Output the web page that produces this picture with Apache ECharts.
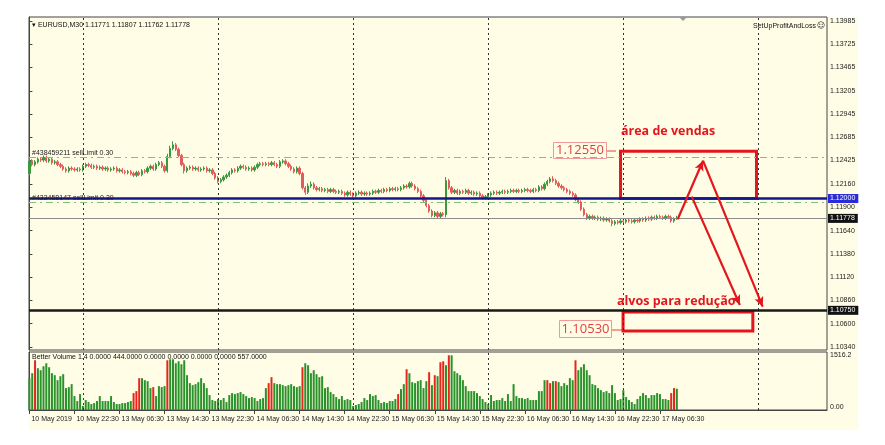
<!DOCTYPE html>
<html><head><meta charset="utf-8">
<script src="https://cdn.jsdelivr.net/npm/echarts@6/dist/echarts.min.js"></script>
<style>html,body{margin:0;padding:0;background:#fff}#c{width:885px;height:445px}</style>
</head><body><div id="c"></div>
<script>
// ---- data ----
const tickIndex = [0,16,32,48,64,80,96,112,128,144,160,176,192,208,224];
const tickLabels = ['10 May 2019','10 May 22:30','13 May 06:30','13 May 14:30','13 May 22:30','14 May 06:30','14 May 14:30','14 May 22:30','15 May 06:30','15 May 14:30','15 May 22:30','16 May 06:30','16 May 14:30','16 May 22:30','17 May 06:30'];
const daySeparators = [19,67,115,163,211,259];
const priceTicks = [1.13985,1.13725,1.13465,1.13205,1.12945,1.12685,1.12425,1.12160,1.11900,1.11640,1.11380,1.11120,1.10860,1.10600,1.10340];

const opens = [
1.1228,1.1242,1.1238,1.1241,1.1244,1.1243,1.1246,1.1242,1.1244,1.1240,
1.1241,1.1238,1.1236,1.1233,1.1231,1.1234,1.1233,1.1232,1.1233,1.1232,
1.1236,1.1238,1.1237,1.1235,1.1236,1.1234,1.1235,1.1233,1.1234,1.1232,
1.1233,1.1234,1.1231,1.1232,1.1230,1.1229,1.1230,1.1228,1.1226,1.1229,
1.1227,1.1231,1.1230,1.1234,1.1236,1.1233,1.1238,1.1240,1.1236,1.1231,
1.1247,1.1256,1.1260,1.1255,1.1248,1.1238,1.1231,1.1234,1.1235,1.1233,
1.1234,1.1232,1.1233,1.1234,1.1231,1.1232,1.1228,1.1223,1.1219,1.1221,
1.1224,1.1226,1.1229,1.1232,1.1231,1.1234,1.1236,1.1235,1.1233,1.1234,
1.1232,1.1235,1.1238,1.1239,1.1238,1.1239,1.1238,1.1240,1.1238,1.1236,
1.1241,1.1242,1.1239,1.1236,1.1233,1.1230,1.1234,1.1228,1.1212,1.1207,
1.1214,1.1216,1.1212,1.1210,1.1211,1.1209,1.1210,1.1208,1.1210,1.1208,
1.1207,1.1208,1.1206,1.1204,1.1207,1.1205,1.1203,1.1206,1.1207,1.1205,
1.1206,1.1205,1.1206,1.1208,1.1207,1.1209,1.1208,1.1210,1.1209,1.1211,
1.1210,1.1211,1.1210,1.1212,1.1214,1.1213,1.1217,1.1214,1.1211,1.1208,
1.1203,1.1198,1.1192,1.1186,1.1181,1.1184,1.1180,1.1183,1.1182,1.1220,
1.1212,1.1207,1.1209,1.1206,1.1208,1.1207,1.1209,1.1206,1.1207,1.1205,
1.1206,1.1203,1.1201,1.1202,1.1204,1.1206,1.1207,1.1206,1.1207,1.1208,
1.1207,1.1208,1.1209,1.1208,1.1209,1.1208,1.1209,1.1210,1.1209,1.1208,
1.1210,1.1209,1.1213,1.1211,1.1216,1.1219,1.1222,1.1220,1.1217,1.1214,
1.1212,1.1210,1.1208,1.1206,1.1204,1.1199,1.1196,1.1188,1.1182,1.1178,
1.1180,1.1178,1.1179,1.1177,1.1178,1.1176,1.1177,1.1175,1.1172,1.1174,
1.1173,1.1175,1.1174,1.1176,1.1175,1.1174,1.1176,1.1175,1.1177,1.1176,
1.1178,1.1177,1.1179,1.1178,1.1180,1.1179,1.1178,1.1180,1.1179,1.1175,
1.11771];
const closes = [
1.1242,1.1238,1.1241,1.1244,1.1243,1.1246,1.1242,1.1244,1.1240,1.1241,
1.1238,1.1236,1.1233,1.1231,1.1234,1.1233,1.1232,1.1233,1.1232,1.1236,
1.1238,1.1237,1.1235,1.1236,1.1234,1.1235,1.1233,1.1234,1.1232,1.1233,
1.1234,1.1231,1.1232,1.1230,1.1229,1.1230,1.1228,1.1226,1.1229,1.1227,
1.1231,1.1230,1.1234,1.1236,1.1233,1.1238,1.1240,1.1236,1.1231,1.1247,
1.1256,1.1260,1.1255,1.1248,1.1238,1.1231,1.1234,1.1235,1.1233,1.1234,
1.1232,1.1233,1.1234,1.1231,1.1232,1.1228,1.1223,1.1219,1.1221,1.1224,
1.1226,1.1229,1.1232,1.1231,1.1234,1.1236,1.1235,1.1233,1.1234,1.1232,
1.1235,1.1238,1.1239,1.1238,1.1239,1.1238,1.1240,1.1238,1.1236,1.1241,
1.1242,1.1239,1.1236,1.1233,1.1230,1.1234,1.1228,1.1212,1.1207,1.1214,
1.1216,1.1212,1.1210,1.1211,1.1209,1.1210,1.1208,1.1210,1.1208,1.1207,
1.1208,1.1206,1.1204,1.1207,1.1205,1.1203,1.1206,1.1207,1.1205,1.1206,
1.1205,1.1206,1.1208,1.1207,1.1209,1.1208,1.1210,1.1209,1.1211,1.1210,
1.1211,1.1210,1.1212,1.1214,1.1213,1.1217,1.1214,1.1211,1.1208,1.1203,
1.1198,1.1192,1.1186,1.1181,1.1184,1.1180,1.1183,1.1182,1.1220,1.1212,
1.1207,1.1209,1.1206,1.1208,1.1207,1.1209,1.1206,1.1207,1.1205,1.1206,
1.1203,1.1201,1.1202,1.1204,1.1206,1.1207,1.1206,1.1207,1.1208,1.1207,
1.1208,1.1209,1.1208,1.1209,1.1208,1.1209,1.1210,1.1209,1.1208,1.1210,
1.1209,1.1213,1.1211,1.1216,1.1219,1.1222,1.1220,1.1217,1.1214,1.1212,
1.1210,1.1208,1.1206,1.1204,1.1199,1.1196,1.1188,1.1182,1.1178,1.1180,
1.1178,1.1179,1.1177,1.1178,1.1176,1.1177,1.1175,1.1172,1.1174,1.1173,
1.1175,1.1174,1.1176,1.1175,1.1174,1.1176,1.1175,1.1177,1.1176,1.1178,
1.1177,1.1179,1.1178,1.1180,1.1179,1.1178,1.1180,1.1179,1.1175,1.1177,
1.11778];
const highs = [
1.1245,1.1244,1.1243,1.1246,1.1246,1.1248,1.1248,1.1246,1.1246,1.1243,
1.1243,1.1240,1.1238,1.1235,1.1236,1.1236,1.1235,1.1235,1.1235,1.1238,
1.1240,1.1240,1.1239,1.1238,1.1238,1.1237,1.1237,1.1236,1.1236,1.1235,
1.1236,1.1236,1.1234,1.1234,1.1232,1.1232,1.1232,1.1230,1.1231,1.1231,
1.1233,1.1233,1.1236,1.1238,1.1238,1.1240,1.1242,1.1242,1.1238,1.1250,
1.1259,1.1264,1.1262,1.1257,1.1250,1.1240,1.1236,1.1237,1.1237,1.1236,
1.1236,1.1235,1.1236,1.1236,1.1234,1.1234,1.1230,1.1225,1.1223,1.1226,
1.1228,1.1231,1.1234,1.1234,1.1236,1.1238,1.1238,1.1237,1.1236,1.1236,
1.1237,1.1240,1.1241,1.1241,1.1241,1.1241,1.1242,1.1242,1.1240,1.1243,
1.1244,1.1244,1.1241,1.1238,1.1235,1.1236,1.1236,1.1230,1.1214,1.1217,
1.1219,1.1218,1.1214,1.1213,1.1213,1.1212,1.1212,1.1212,1.1212,1.1210,
1.1210,1.1210,1.1208,1.1209,1.1209,1.1207,1.1208,1.1209,1.1209,1.1208,
1.1208,1.1208,1.1210,1.1210,1.1211,1.1211,1.1212,1.1212,1.1213,1.1213,
1.1213,1.1213,1.1214,1.1216,1.1216,1.1219,1.1219,1.1216,1.1213,1.1210,
1.1205,1.1200,1.1194,1.1188,1.1186,1.1186,1.1185,1.1185,1.1224,1.1222,
1.1214,1.1211,1.1211,1.1210,1.1210,1.1211,1.1211,1.1209,1.1209,1.1208,
1.1208,1.1205,1.1204,1.1206,1.1208,1.1209,1.1209,1.1209,1.1210,1.1210,
1.1210,1.1211,1.1211,1.1211,1.1211,1.1211,1.1212,1.1212,1.1211,1.1212,
1.1212,1.1215,1.1215,1.1218,1.1221,1.1224,1.1225,1.1222,1.1219,1.1216,
1.1214,1.1212,1.1210,1.1208,1.1206,1.1201,1.1198,1.1190,1.1184,1.1182,
1.1182,1.1181,1.1181,1.1180,1.1180,1.1179,1.1179,1.1177,1.1176,1.1176,
1.1177,1.1177,1.1178,1.1178,1.1177,1.1178,1.1178,1.1179,1.1179,1.1180,
1.1180,1.1181,1.1181,1.1182,1.1182,1.1181,1.1182,1.1182,1.1181,1.1179,
1.11807];
const lows = [
1.1226,1.1236,1.1236,1.1239,1.1241,1.1241,1.1240,1.1240,1.1238,1.1238,
1.1236,1.1234,1.1231,1.1229,1.1229,1.1231,1.1230,1.1230,1.1230,1.1230,
1.1234,1.1235,1.1233,1.1233,1.1232,1.1232,1.1231,1.1231,1.1230,1.1230,
1.1231,1.1229,1.1229,1.1228,1.1227,1.1227,1.1226,1.1224,1.1224,1.1225,
1.1225,1.1228,1.1228,1.1232,1.1231,1.1231,1.1236,1.1234,1.1229,1.1229,
1.1245,1.1254,1.1253,1.1246,1.1236,1.1228,1.1229,1.1232,1.1231,1.1231,
1.1230,1.1230,1.1231,1.1229,1.1229,1.1226,1.1221,1.1217,1.1217,1.1219,
1.1222,1.1224,1.1227,1.1229,1.1229,1.1232,1.1233,1.1231,1.1231,1.1230,
1.1230,1.1233,1.1236,1.1236,1.1236,1.1236,1.1236,1.1236,1.1234,1.1234,
1.1239,1.1237,1.1234,1.1231,1.1228,1.1228,1.1226,1.1210,1.1204,1.1205,
1.1212,1.1210,1.1208,1.1208,1.1207,1.1207,1.1206,1.1206,1.1206,1.1205,
1.1205,1.1204,1.1202,1.1202,1.1203,1.1201,1.1201,1.1204,1.1203,1.1203,
1.1203,1.1203,1.1204,1.1205,1.1205,1.1206,1.1206,1.1207,1.1207,1.1208,
1.1208,1.1208,1.1208,1.1210,1.1211,1.1211,1.1212,1.1209,1.1206,1.1201,
1.1196,1.1190,1.1184,1.1179,1.1179,1.1178,1.1178,1.1180,1.1179,1.1210,
1.1205,1.1205,1.1204,1.1204,1.1205,1.1205,1.1204,1.1204,1.1203,1.1203,
1.1201,1.1199,1.1199,1.1200,1.1202,1.1204,1.1204,1.1204,1.1205,1.1205,
1.1205,1.1206,1.1206,1.1206,1.1206,1.1206,1.1207,1.1207,1.1206,1.1206,
1.1207,1.1207,1.1209,1.1209,1.1214,1.1217,1.1218,1.1215,1.1212,1.1210,
1.1208,1.1206,1.1204,1.1202,1.1197,1.1194,1.1186,1.1180,1.1176,1.1176,
1.1176,1.1176,1.1175,1.1175,1.1174,1.1174,1.1173,1.1169,1.1170,1.1171,
1.1171,1.1172,1.1172,1.1173,1.1172,1.1172,1.1173,1.1173,1.1174,1.1174,
1.1175,1.1175,1.1176,1.1176,1.1177,1.1176,1.1176,1.1177,1.1173,1.1173,
1.11762];
const volumes = [
832,962,1300,1092,1040,1144,1222,1118,962,910,
780,884,936,572,598,676,364,234,416,104,
260,208,156,182,234,364,234,234,234,364,
208,156,156,182,182,208,234,442,494,832,
832,780,754,572,598,364,624,598,624,1300,
1326,1326,1222,1274,1196,1300,910,702,650,676,
728,832,702,572,390,260,234,286,260,312,
208,390,442,416,442,468,416,364,312,338,
312,234,286,312,572,702,858,702,676,676,
650,624,650,676,624,598,624,1118,1222,1170,
962,1040,936,858,884,572,598,468,416,338,
286,364,260,286,260,104,130,156,208,312,
260,416,364,390,260,182,208,182,234,234,
286,416,546,676,1066,962,728,702,754,780,
572,754,988,650,910,884,1248,1274,1170,1430,
1430,1014,962,910,780,624,494,494,494,442,
364,286,208,156,390,234,260,260,312,234,
416,234,676,364,312,312,286,312,260,260,
260,494,494,780,780,702,754,754,728,624,
702,650,832,780,1300,1040,1118,1196,1040,910,
676,650,572,520,468,494,442,650,442,260,
286,520,338,260,208,156,286,364,442,390,
312,390,390,442,416,286,286,260,442,572,
557];
const climaxBars = [2,37,38,39,44,49,85,86,97,131,134,142,144,146,147,149,184,185,187,194,228,229];

const orderPrices = [1.12460, 1.11960];
const orderLabels = ['#438459211 sellLimit 0.30', '#433458147 sellLimit 0.30'];
const levelPrices = [1.12000, 1.11778, 1.10750];
const volumeMax = 1516.2;

const sellZoneBars = [210, 258.3];
const sellZonePrices = [1.1253, 1.1200];
const targetZoneBars = [210.9, 257.0];
const targetZonePrices = [1.1073, 1.1052];
const arrowStarts = [[230.3, 1.11768], [239.3, 1.12423], [235.3, 1.12021]];
const arrowEnds = [[239.3, 1.12423], [260.5, 1.10791], [252.4, 1.10810]];

// ---- styles ----
const CREAM = '#fffde6';
const RED = '#e3161d';
const F = 'Liberation Sans, Arial, sans-serif';

const candleData = closes.map((c, i) => [i, opens[i], c, lows[i], highs[i]]);
const volumeData = volumes.map((v, i) => ({
  value: [i, v],
  itemStyle: { color: climaxBars.indexOf(i) >= 0 ? '#e8251b' : '#2a922a' }
}));

const sepLines = daySeparators.map(x => ({ xAxis: x }));

const chart = echarts.init(document.getElementById('c'), null, { renderer: 'canvas' });
chart.setOption({
  animation: false,
  backgroundColor: '#ffffff',
  textStyle: { fontFamily: F },
  grid: [
    { left: 29, top: 17, width: 798, height: 333, show: true, borderColor: '#444', borderWidth: 1, backgroundColor: 'transparent' },
    { left: 29, top: 352, width: 798, height: 58, show: true, borderColor: '#444', borderWidth: 1, backgroundColor: 'transparent' }
  ],
  xAxis: [
    { gridIndex: 0, type: 'value', min: -0.15, max: 283.35, axisLine: { show: false }, axisTick: { show: false }, axisLabel: { show: false }, splitLine: { show: false } },
    { gridIndex: 1, type: 'value', min: -0.15, max: 283.35,
      axisLine: { show: true, onZero: false, lineStyle: { color: '#444', width: 1 } },
      axisTick: { show: true, customValues: tickIndex, length: 4, inside: false, lineStyle: { color: '#444' } },
      axisLabel: { show: true, customValues: tickIndex, formatter: v => tickLabels[tickIndex.indexOf(Math.round(v))] || '',
        align: 'left', margin: 6, padding: [0, 0, 0, 2], fontSize: 7, color: '#222', fontFamily: F },
      splitLine: { show: false } }
  ],
  yAxis: [
    { gridIndex: 0, type: 'value', position: 'right', min: 1.103065, max: 1.140297, scale: true,
      axisLine: { show: true, lineStyle: { color: '#444' } },
      axisTick: { show: true, customValues: priceTicks, length: 3, lineStyle: { color: '#444' } },
      axisLabel: { show: true, customValues: priceTicks, formatter: v => v.toFixed(5), margin: 3, fontSize: 7, color: '#222', fontFamily: F },
      splitLine: { show: false } },
    { gridIndex: 1, type: 'value', position: 'right', min: 0, max: volumeMax,
      axisLine: { show: true, lineStyle: { color: '#444' } },
      axisTick: { show: false },
      axisLabel: { show: true, customValues: [0, volumeMax], formatter: v => v === 0 ? '{lo|0.00}' : '{hi|' + volumeMax + '}',
        rich: { lo: { fontSize: 7, color: '#222', padding: [0, 0, 6, 0] }, hi: { fontSize: 7, color: '#222', padding: [6, 0, 0, 0] } },
        margin: 3, fontSize: 7, color: '#222', fontFamily: F },
      splitLine: { show: false } }
  ],
  graphic: [
    { type: 'rect', z: -100, silent: true, shape: { x: 29, y: 17, width: 829, height: 413 }, style: { fill: CREAM } },
    { type: 'text', x: 32, y: 25, style: { text: '\u25BE EURUSD,M30 1.11771 1.11807 1.11762 1.11778', font: '7px ' + F, fill: '#111', verticalAlign: 'middle' } },
    { type: 'text', x: 816, y: 26, style: { text: 'SetUpProfitAndLoss', font: '7px ' + F, fill: '#111', align: 'right', verticalAlign: 'middle' } },
    { type: 'text', x: 817, y: 26, style: { text: '\u263A', font: '8px DejaVu Sans', fill: '#111', verticalAlign: 'middle' } },
    { type: 'polygon', shape: { points: [[679, 17], [687, 17], [683, 21]] }, style: { fill: '#999' } },
    { type: 'text', x: 32, y: 357, style: { text: 'Better Volume 1.4 0.0000 444.0000 0.0000 0.0000 0.0000 0.0000 557.0000', font: '7px ' + F, fill: '#111', verticalAlign: 'middle' } },
    { type: 'text', x: 621, y: 131, style: { text: 'área de vendas', font: 'bold 12.5px Open Sans', fill: RED, verticalAlign: 'middle' } },
    { type: 'text', x: 617, y: 301, style: { text: 'alvos para redução', font: 'bold 12.5px Open Sans', fill: RED, verticalAlign: 'middle' } },
    { type: 'rect', shape: { x: 553.5, y: 142.5, width: 53, height: 16 }, style: { fill: CREAM, stroke: '#ee9a9a', lineWidth: 1 } },
    { type: 'text', x: 580, y: 150.5, style: { text: '1.12550', font: '13px Open Sans', fill: '#e04040', align: 'center', verticalAlign: 'middle' } },
    { type: 'line', shape: { x1: 607, y1: 151, x2: 616, y2: 151 }, style: { stroke: '#e04040', lineWidth: 1 } },
    { type: 'rect', shape: { x: 559.5, y: 320.5, width: 52, height: 17 }, style: { fill: CREAM, stroke: '#ee9a9a', lineWidth: 1 } },
    { type: 'text', x: 585.5, y: 329, style: { text: '1.10530', font: '13px Open Sans', fill: '#e04040', align: 'center', verticalAlign: 'middle' } },
    { type: 'line', shape: { x1: 612, y1: 330, x2: 622, y2: 330 }, style: { stroke: '#e04040', lineWidth: 1 } }
  ],
  series: [
    { type: 'candlestick', name: 'EURUSD', xAxisIndex: 0, yAxisIndex: 0,
      data: candleData, encode: { x: 0, y: [1, 2, 3, 4] },
      barWidth: 1.8,
      itemStyle: { color: '#3a9a3a', color0: '#e05c5c', borderColor: '#3a9a3a', borderColor0: '#e05c5c', borderWidth: 1 },
      markLine: { silent: true, symbol: 'none', animation: false, precision: 5,
        data: [
          ...sepLines.map(d => Object.assign({}, d, { lineStyle: { type: [2, 3], color: '#333', width: 1 }, label: { show: false } })),
          { yAxis: orderPrices[0], lineStyle: { type: [7, 4, 2, 4], color: '#7fbf7f', width: 1 },
            label: { show: true, position: 'insideStartTop', distance: [3, 1], formatter: orderLabels[0], fontSize: 7, color: '#222', fontFamily: F } },
          { yAxis: orderPrices[1], lineStyle: { type: [7, 4, 2, 4], color: '#7fbf7f', width: 1 },
            label: { show: true, position: 'insideStartTop', distance: [3, 1], formatter: orderLabels[1], fontSize: 7, color: '#222', fontFamily: F } },
          { yAxis: levelPrices[1], lineStyle: { type: 'solid', color: '#8c8c8c', width: 1 },
            label: { show: true, position: 'end', distance: 1, formatter: levelPrices[1].toFixed(5), fontSize: 7, color: '#fff', backgroundColor: '#111', padding: [1, 3, 1, 2], fontFamily: F } },
          { yAxis: levelPrices[0], lineStyle: { type: 'solid', color: '#14148c', width: 2.5 },
            label: { show: true, position: 'end', distance: 1, formatter: levelPrices[0].toFixed(5), fontSize: 7, color: '#fff', backgroundColor: '#2a2ad8', padding: [1, 3, 1, 2], fontFamily: F } },
          { yAxis: levelPrices[2], lineStyle: { type: 'solid', color: '#1a1a1a', width: 2.5 },
            label: { show: true, position: 'end', distance: 1, formatter: levelPrices[2].toFixed(5), fontSize: 7, color: '#fff', backgroundColor: '#111', padding: [1, 3, 1, 2], fontFamily: F } },
          ...arrowStarts.map((s, k) => [
            { coord: s, symbol: 'none', lineStyle: { type: 'solid', color: RED, width: 2.2 }, label: { show: false } },
            { coord: arrowEnds[k], symbol: 'arrow', symbolSize: [7, 10] }
          ])
        ] },
      markArea: { silent: true,
        itemStyle: { color: 'rgba(0,0,0,0)', borderColor: RED, borderWidth: 3 },
        label: { show: false },
        data: [
          [{ coord: [sellZoneBars[0], sellZonePrices[0]] }, { coord: [sellZoneBars[1], sellZonePrices[1]] }],
          [{ coord: [targetZoneBars[0], targetZonePrices[0]] }, { coord: [targetZoneBars[1], targetZonePrices[1]] }]
        ] }
    },
    { type: 'bar', name: 'Better Volume', xAxisIndex: 1, yAxisIndex: 1,
      data: volumeData, barWidth: 2,
      markLine: { silent: true, symbol: 'none', animation: false,
        lineStyle: { type: [2, 3], color: '#333', width: 1 }, label: { show: false },
        data: sepLines }
    }
  ]
});
</script>
</body></html>
